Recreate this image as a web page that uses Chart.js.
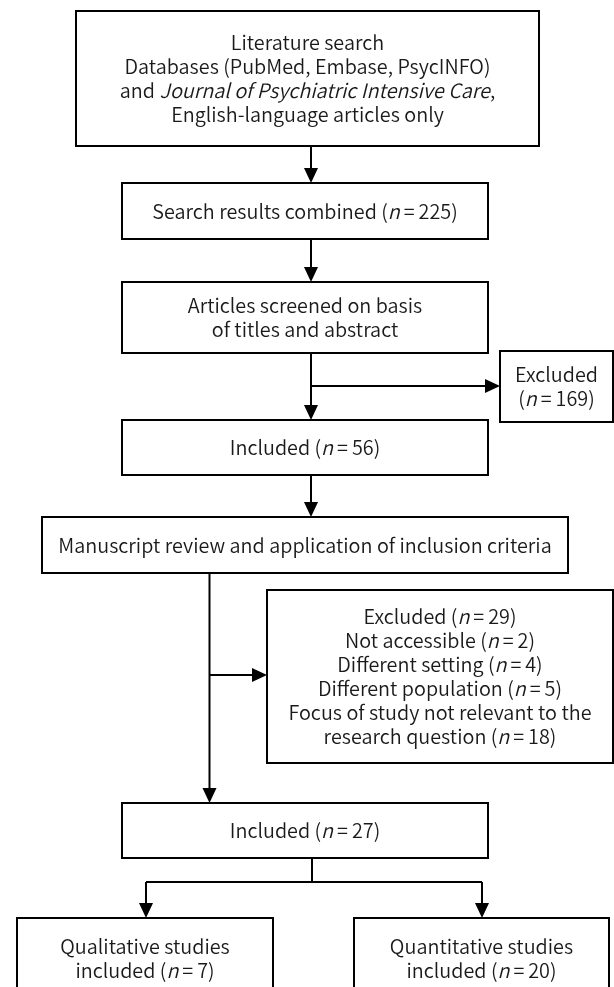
<!DOCTYPE html>
<html><head><meta charset="utf-8">
<script src="https://cdn.jsdelivr.net/npm/chart.js@4"></script>
<style>html,body{margin:0;padding:0;background:#fff}#wrap{width:614px;height:987px;position:relative}</style>
</head><body><div id="wrap"><canvas id="c"></canvas></div>
<script>
// ---------- data ----------
const searchDatabases = ["PubMed", "Embase", "PsycINFO"];
const searchJournal = "Journal of Psychiatric Intensive Care";
const stageNames = ["Search results combined", "Excluded", "Included", "Excluded", "Included", "Qualitative studies included", "Quantitative studies included"];
const stageCounts = [225, 169, 56, 29, 27, 7, 20];
const exclusionReasons = ["Not accessible", "Different setting", "Different population", "Focus of study not relevant to the research question"];
const exclusionCounts = [2, 4, 5, 18];

// ---------- text builders ----------
const nTxt = v => "(*n*\u2009=\u2009" + v + ")";
const boxTexts = [
  ["Literature search", "Databases (" + searchDatabases.join(", ") + ")", "and *" + searchJournal + "*,", "English-language articles only"],
  [stageNames[0] + " " + nTxt(stageCounts[0])],
  ["Articles screened on basis", "of titles and abstract"],
  [stageNames[1], nTxt(stageCounts[1])],
  [stageNames[2] + " " + nTxt(stageCounts[2])],
  ["Manuscript review and application of inclusion criteria"],
  [stageNames[3] + " " + nTxt(stageCounts[3])].concat(exclusionReasons.map((r, i) => r + " " + nTxt(exclusionCounts[i]))),
  [stageNames[4] + " " + nTxt(stageCounts[4])],
  ["Qualitative studies", "included " + nTxt(stageCounts[5])],
  ["Quantitative studies", "included " + nTxt(stageCounts[6])]
];

// ---------- layout (chart units: x 0..614, y 0..987 top-down) ----------
const boxRects = [
  [76, 11, 539, 146],
  [122, 183, 488, 239],
  [122, 282, 488, 353],
  [500, 351, 613, 422],
  [122, 420, 488, 475],
  [42, 517, 568, 573],
  [267, 590, 613, 763],
  [122, 803, 488, 858],
  [17, 918, 273, 999],
  [354, 918, 609, 999]
];
const connectors = [
  {pts: [[311, 146], [311, 183]], arrow: true},
  {pts: [[311, 239], [311, 282]], arrow: true},
  {pts: [[311, 353], [311, 420]], arrow: true},
  {pts: [[311, 386], [500, 386]], arrow: true},
  {pts: [[311, 475], [311, 517]], arrow: true},
  {pts: [[209.5, 573], [209.5, 803]], arrow: true},
  {pts: [[209.5, 675], [267, 675]], arrow: true},
  {pts: [[312, 858], [312, 882]], arrow: false},
  {pts: [[146, 882], [482, 882]], arrow: false},
  {pts: [[146, 882], [146, 918]], arrow: true},
  {pts: [[482, 882], [482, 918]], arrow: true}
];

const FONT_FAMILY = '"Noto Sans CJK KR", "Noto Sans", sans-serif';
const FONT_WEIGHT = 350;
const LINE_H = 24;
let FONT_SIZE = 20;

function parseSegs(line) {
  const parts = line.split("*");
  return parts.map((t, i) => ({t, it: i % 2 === 1})).filter(s => s.t.length);
}
function setFont(ctx, it) {
  ctx.font = (it ? "italic " : "") + FONT_WEIGHT + " " + FONT_SIZE + "px " + FONT_FAMILY;
}
function lineWidth(ctx, segs) {
  let w = 0;
  segs.forEach(s => { setFont(ctx, s.it); w += ctx.measureText(s.t).width; });
  return w;
}
function wrapLine(ctx, line, maxW) {
  if (lineWidth(ctx, parseSegs(line)) <= maxW) return [line];
  const words = line.split(" ");
  const out = [];
  let cur = "";
  words.forEach(w => {
    const test = cur ? cur + " " + w : w;
    if (cur && lineWidth(ctx, parseSegs(test)) > maxW) { out.push(cur); cur = w; }
    else cur = test;
  });
  if (cur) out.push(cur);
  return out;
}

const flowPlugin = {
  id: "flow",
  afterDraw(chart) {
    const ctx = chart.ctx;
    const xs = chart.scales.x, ys = chart.scales.y;
    const px = v => xs.getPixelForValue(v), py = v => ys.getPixelForValue(v);
    ctx.save();
    FONT_SIZE = 20;
    const refW = lineWidth(ctx, parseSegs(boxTexts[0][1]));
    FONT_SIZE = 20 * (px(488) - px(122)) / refW;

    ctx.strokeStyle = "#000";
    ctx.fillStyle = "#000";
    ctx.lineWidth = 2;
    ctx.lineCap = "butt";
    connectors.forEach(c => {
      const p = c.pts.map(q => [px(q[0]), py(q[1])]);
      const n = p.length;
      const a = p[n - 2], b = p[n - 1];
      const dx = b[0] - a[0], dy = b[1] - a[1];
      const len = Math.hypot(dx, dy), ux = dx / len, uy = dy / len;
      const headL = 15, headW = 7;
      ctx.beginPath();
      ctx.moveTo(p[0][0], p[0][1]);
      for (let i = 1; i < n; i++) {
        if (i === n - 1 && c.arrow) ctx.lineTo(b[0] - ux * headL, b[1] - uy * headL);
        else ctx.lineTo(p[i][0], p[i][1]);
      }
      ctx.stroke();
      if (c.arrow) {
        ctx.beginPath();
        ctx.moveTo(b[0], b[1]);
        ctx.lineTo(b[0] - ux * headL - uy * headW, b[1] - uy * headL + ux * headW);
        ctx.lineTo(b[0] - ux * headL + uy * headW, b[1] - uy * headL - ux * headW);
        ctx.closePath();
        ctx.fill();
      }
    });
    boxRects.forEach((r, i) => {
      const x0 = px(r[0]), y0 = py(r[1]), x1 = px(r[2]), y1 = py(r[3]);
      ctx.fillStyle = "#fff";
      ctx.fillRect(x0, y0, x1 - x0, y1 - y0);
      ctx.strokeStyle = "#000";
      ctx.lineWidth = 2;
      ctx.strokeRect(x0, y0, x1 - x0, y1 - y0);
      let lines = [];
      boxTexts[i].forEach(l => { lines = lines.concat(wrapLine(ctx, l, (x1 - x0) - 24)); });
      const cx = (x0 + x1) / 2;
      const cyBox = (y0 + y1) / 2;
      const startY = cyBox - (lines.length - 1) * LINE_H / 2;
      ctx.fillStyle = "#1a1a1a";
      ctx.textBaseline = "middle";
      ctx.textAlign = "left";
      lines.forEach((l, k) => {
        const segs = parseSegs(l);
        let x = cx - lineWidth(ctx, segs) / 2;
        const y = startY + k * LINE_H;
        segs.forEach(s => { setFont(ctx, s.it); ctx.fillText(s.t, x, y); x += ctx.measureText(s.t).width; });
      });
    });
    ctx.restore();
  }
};

new Chart(document.getElementById("c"), {
  type: "scatter",
  data: {datasets: [{data: [], pointRadius: 0}]},
  options: {
    responsive: true,
    maintainAspectRatio: false,
    animation: false,
    layout: {padding: 0},
    plugins: {legend: {display: false}, tooltip: {enabled: false}},
    scales: {
      x: {type: "linear", min: 0, max: 614, display: false},
      y: {type: "linear", min: 0, max: 987, reverse: true, display: false}
    }
  },
  plugins: [flowPlugin]
});
</script>
</body></html>
